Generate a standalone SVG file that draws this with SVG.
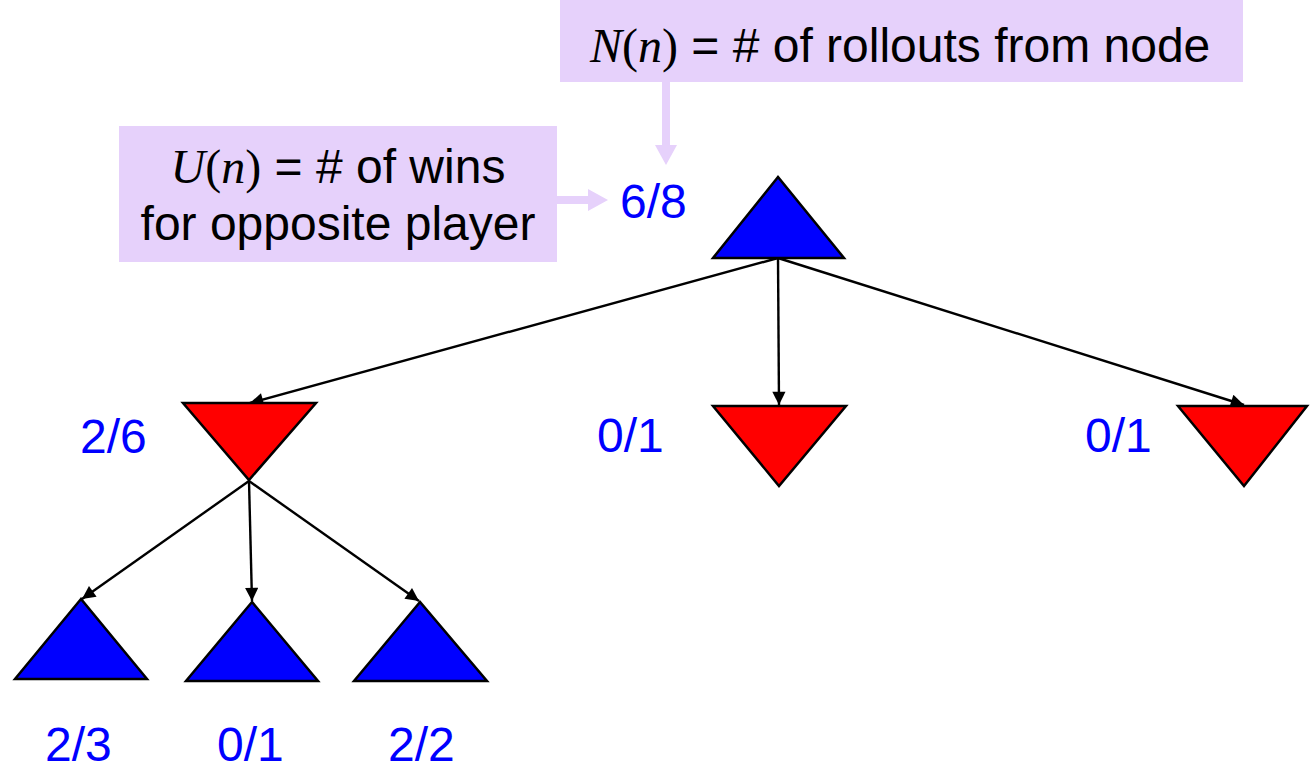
<svg xmlns="http://www.w3.org/2000/svg" width="1316" height="770" viewBox="0 0 1316 770">
  <defs>
    <marker id="arrow" viewBox="0 0 10 10" refX="10" refY="5" markerWidth="6.5" markerHeight="5.5" markerUnits="strokeWidth" orient="auto">
      <path d="M0,0 L10,5 L0,10 z" fill="#000"/>
    </marker>
    <style>
      .max { fill: #0000ff; stroke: #000; stroke-width: 2.5; stroke-linejoin: miter; }
      .min { fill: #ff0000; stroke: #000; stroke-width: 2.5; stroke-linejoin: miter; }
      .edge { stroke: #000; stroke-width: 2.4; fill: none; marker-end: url(#arrow); }
      .lbl { font-family: "Liberation Sans", Arial, sans-serif; font-size: 48px; fill: #0000ff; }
      .note { fill: #e6d1fb; }
      .ptr { fill: #e6d1fb; }
      .ntext { font-family: "Liberation Sans", Arial, sans-serif; font-size: 48px; fill: #000; }
      .math { font-family: "Liberation Serif", "Times New Roman", serif; }
      .var { font-style: italic; }
    </style>
  </defs>

  <!-- annotation boxes -->
  <g id="note-N">
    <rect class="note" x="560" y="0" width="683" height="82"/>
    <text class="ntext" x="590" y="62"><tspan class="math var">N</tspan><tspan class="math">(</tspan><tspan class="math var">n</tspan><tspan class="math">)</tspan> = # of rollouts from node</text>
    <path class="ptr" d="M662,82 H670 V145 H677 L666,165 L655,145 H662 Z"/>
  </g>
  <g id="note-U">
    <rect class="note" x="119" y="126" width="438" height="136"/>
    <text class="ntext" x="338" y="183" text-anchor="middle"><tspan class="math var">U</tspan><tspan class="math">(</tspan><tspan class="math var">n</tspan><tspan class="math">)</tspan> = # of wins</text>
    <text class="ntext" x="338" y="240" text-anchor="middle">for opposite player</text>
    <path class="ptr" d="M557,196 H588 V189 L608,200 L588,211 V204 H557 Z"/>
  </g>

  <!-- connectors -->
  <g id="edges">
    <line class="edge" x1="778" y1="258" x2="250" y2="403"/>
    <line class="edge" x1="778" y1="258" x2="779" y2="405"/>
    <line class="edge" x1="778" y1="258" x2="1244" y2="405"/>
    <line class="edge" x1="249" y1="481" x2="82" y2="599"/>
    <line class="edge" x1="249" y1="481" x2="252" y2="601"/>
    <line class="edge" x1="249" y1="481" x2="419" y2="601"/>
  </g>

  <!-- tree nodes -->
  <g id="root">
    <polygon class="max" points="778,177 713,258 844,258"/>
    <text class="lbl" x="620" y="218">6/8</text>
  </g>
  <g id="min-a">
    <polygon class="min" points="183,403 316,403 249,480"/>
    <text class="lbl" x="80" y="453">2/6</text>
  </g>
  <g id="min-b">
    <polygon class="min" points="713,406 846,406 779,486"/>
    <text class="lbl" x="597" y="452">0/1</text>
  </g>
  <g id="min-c">
    <polygon class="min" points="1178,406 1307,406 1244,486"/>
    <text class="lbl" x="1085" y="452">0/1</text>
  </g>
  <g id="max-a">
    <polygon class="max" points="81,599 15,679 147,679"/>
    <text class="lbl" x="45" y="761">2/3</text>
  </g>
  <g id="max-b">
    <polygon class="max" points="252,602 186,681 318,681"/>
    <text class="lbl" x="217" y="761">0/1</text>
  </g>
  <g id="max-c">
    <polygon class="max" points="420,602 354,681 487,681"/>
    <text class="lbl" x="388" y="761">2/2</text>
  </g>
</svg>
